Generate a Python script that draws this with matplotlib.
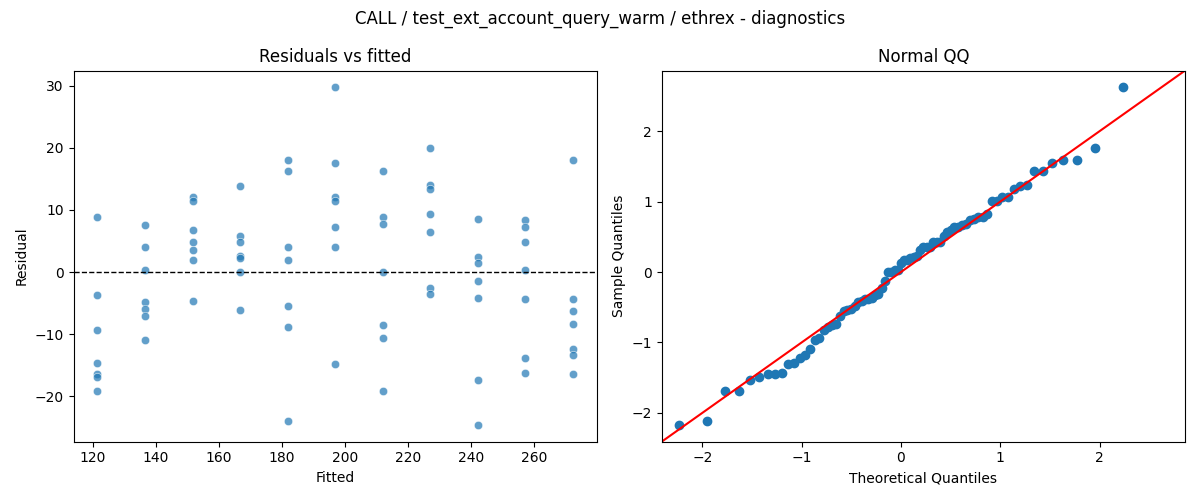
import numpy as np
import matplotlib
matplotlib.use("Agg")
import matplotlib.pyplot as plt
import seaborn as sns
from statistics import NormalDist

title = "CALL / test_ext_account_query_warm / ethrex - diagnostics"

fitted_levels = [121.5, 136.6, 151.7, 166.8, 181.9, 197.0, 212.0, 227.1, 242.2, 257.3, 272.4]
residuals_by_level = [
    [8.9, -3.7, -9.3, -14.7, -16.4, -16.9, -19.1],
    [7.5, 4.0, 0.4, -4.9, -6.0, -7.1, -10.9],
    [12.0, 11.4, 6.7, 4.8, 3.5, 1.9, -4.6],
    [13.8, 5.8, 4.9, 2.6, 2.3, 0.0, -6.1],
    [18.1, 16.3, 4.0, 1.9, -5.5, -8.8, -23.9],
    [29.7, 17.6, 12.0, 11.5, 7.2, 4.0, -14.8],
    [16.2, 8.8, 7.8, 0.0, -8.6, -10.6, -19.1],
    [19.9, 14.0, 13.3, 9.4, 6.4, -2.5, -3.6],
    [8.5, 2.4, 1.5, -1.5, -4.2, -17.4, -24.6],
    [8.3, 7.3, 4.8, 0.3, -4.4, -13.8, -16.3],
    [18.1, -4.4, -6.2, -8.4, -12.4, -13.4, -16.4],
]

fitted = np.array([f for f, res in zip(fitted_levels, residuals_by_level) for _ in res])
resid = np.array([r for res in residuals_by_level for r in res])

fig, axes = plt.subplots(1, 2, figsize=(12, 5))

# residuals vs fitted
ax = axes[0]
sns.scatterplot(x=fitted, y=resid, alpha=0.7, ax=ax)
ax.axhline(0, color="black", linestyle="--", linewidth=1)
ax.set_title("Residuals vs fitted")
ax.set_xlabel("Fitted")
ax.set_ylabel("Residual")

# normal QQ (standardised residuals, 45 degree line)
ax = axes[1]
n = len(resid)
sample_q = np.sort((resid - resid.mean()) / resid.std())
theo_q = np.array([NormalDist().inv_cdf(i / (n + 1)) for i in range(1, n + 1)])
ax.set_xmargin(0.02)
ax.plot(theo_q, sample_q, marker="o", linestyle="none", color="#1f77b4")
xl = ax.get_xlim()
yl = ax.get_ylim()
lims = [min(xl[0], yl[0]), max(xl[1], yl[1])]
ax.plot(lims, lims, "r-")
ax.set_xlim(lims)
ax.set_ylim(lims)
ax.set_title("Normal QQ")
ax.set_xlabel("Theoretical Quantiles")
ax.set_ylabel("Sample Quantiles")

fig.suptitle(title)
plt.tight_layout()
plt.savefig("out.png", dpi=100)
plt.close()
